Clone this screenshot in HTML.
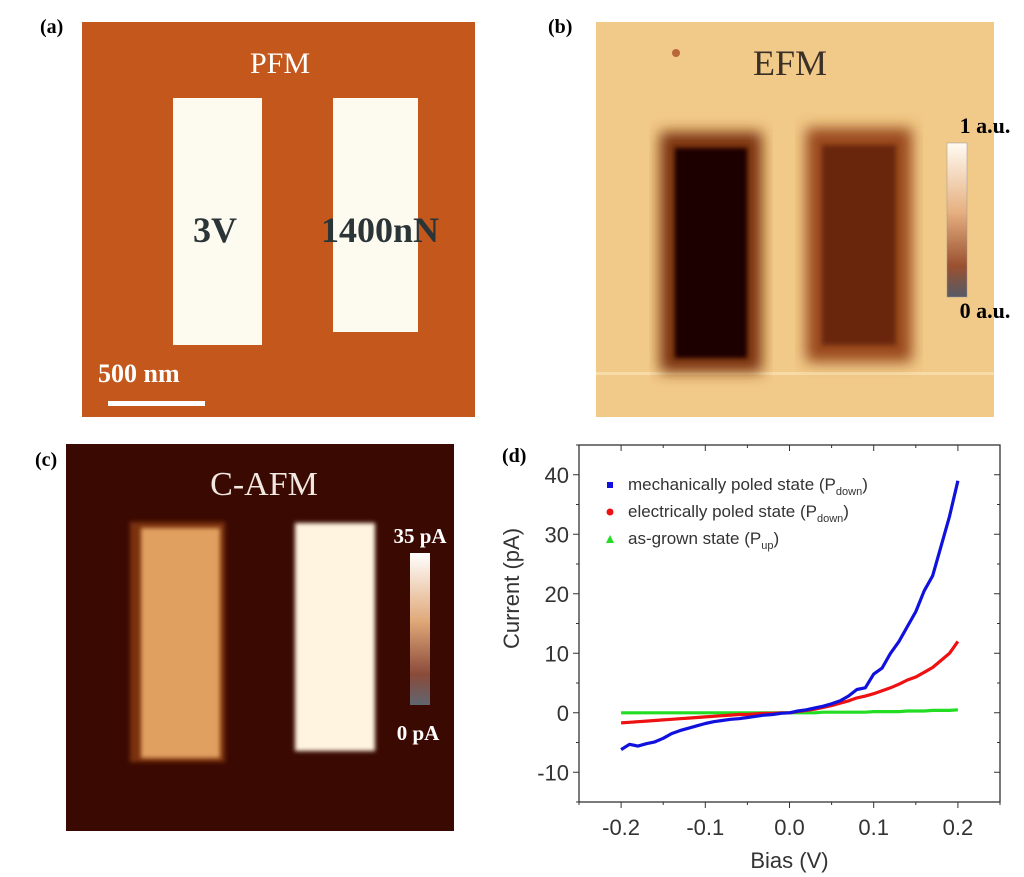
<!DOCTYPE html>
<html><head><meta charset="utf-8"><style>
body{margin:0;background:#fff;}
svg{display:block;}
text{font-family:"Liberation Serif",serif;}
.sans{font-family:"Liberation Sans",sans-serif;}
</style></head><body>
<svg width="1024" height="877" viewBox="0 0 1024 877">
<defs>
<filter id="blur6"><feGaussianBlur stdDeviation="7"/></filter>
<filter id="blur2"><feGaussianBlur stdDeviation="2"/></filter>
<linearGradient id="cbB" x1="0" y1="0" x2="0" y2="1"><stop offset="0" stop-color="#fffbf2"/><stop offset="0.45" stop-color="#e6b080"/><stop offset="0.8" stop-color="#9a5030"/><stop offset="1" stop-color="#555a66"/></linearGradient>
<linearGradient id="cbC" x1="0" y1="0" x2="0" y2="1"><stop offset="0" stop-color="#ffffff"/><stop offset="0.45" stop-color="#e0a878"/><stop offset="0.8" stop-color="#8a4a3a"/><stop offset="1" stop-color="#606670"/></linearGradient>
</defs>

<g>
<text x="40" y="33" font-size="20" font-weight="bold">(a)</text>
<rect x="82" y="22" width="393" height="395" fill="#c4581c"/>
<rect x="173" y="98" width="89" height="247" fill="#fdfbf0"/>
<rect x="333" y="98" width="85" height="234" fill="#fdfbf0"/>
<text x="280" y="73" font-size="30" fill="#fff" text-anchor="middle">PFM</text>
<text x="215" y="242" font-size="36" font-weight="bold" fill="#2b3538" text-anchor="middle">3V</text>
<text x="380" y="242" font-size="36" font-weight="bold" fill="#2b3538" text-anchor="middle">1400nN</text>
<text x="98" y="382" font-size="26" font-weight="bold" fill="#fff">500 nm</text>
<rect x="108" y="401" width="97" height="5" fill="#fff"/>
</g>

<g>
<text x="548" y="33" font-size="20" font-weight="bold">(b)</text>
<rect x="596" y="22" width="398" height="395" fill="#f1c988"/>
<rect x="596" y="372" width="398" height="3" fill="#f8dca8"/>
<rect x="660" y="132" width="102" height="240" fill="#7a3010" filter="url(#blur6)"/>
<rect x="806" y="128" width="106" height="234" fill="#9a4a1c" filter="url(#blur6)"/>
<rect x="675" y="148" width="72" height="210" fill="#1a0500" filter="url(#blur2)"/>
<rect x="822" y="145" width="74" height="200" fill="#6a2508" filter="url(#blur2)"/>
<circle cx="676" cy="53" r="4" fill="#b86838"/>
<text x="790" y="75" font-size="36" fill="#3a3028" text-anchor="middle">EFM</text>
<rect x="947" y="143" width="20" height="154" fill="url(#cbB)" stroke="#999" stroke-width="0.5"/>
<text x="985" y="133" font-size="22" font-weight="bold" text-anchor="middle">1 a.u.</text>
<text x="985" y="318" font-size="22" font-weight="bold" text-anchor="middle">0 a.u.</text>
</g>

<g>
<text x="35" y="466" font-size="20" font-weight="bold">(c)</text>
<rect x="66" y="444" width="388" height="387" fill="#3a0a02"/>
<rect x="130" y="522" width="95" height="240" fill="#7a3010" filter="url(#blur2)"/>
<rect x="141" y="528" width="79" height="230" fill="#e0a060" filter="url(#blur2)"/>
<rect x="295" y="523" width="80" height="228" fill="#fff4e0" filter="url(#blur2)"/>
<text x="264" y="495" font-size="34" fill="#f0e8e0" text-anchor="middle">C-AFM</text>
<rect x="410" y="553" width="20" height="152" fill="url(#cbC)"/>
<text x="420" y="543" font-size="21" font-weight="bold" fill="#fff" text-anchor="middle">35 pA</text>
<text x="418" y="740" font-size="21" font-weight="bold" fill="#fff" text-anchor="middle">0 pA</text>
</g>

<g id="chart">
<text x="502" y="462" font-size="20" font-weight="bold">(d)</text>
</g>
</svg>
<script>
const xVals=[-0.2,-0.19,-0.18,-0.17,-0.16,-0.15,-0.14,-0.13,-0.12,-0.11,-0.1,-0.09,-0.08,-0.07,-0.06,-0.05,-0.04,-0.03,-0.02,-0.01,0,0.01,0.02,0.03,0.04,0.05,0.06,0.07,0.08,0.09,0.1,0.11,0.12,0.13,0.14,0.15,0.16,0.17,0.18,0.19,0.2];
const blueVals=[-6.2,-5.3,-5.6,-5.2,-4.9,-4.3,-3.5,-3.0,-2.6,-2.2,-1.8,-1.5,-1.3,-1.1,-1.0,-0.8,-0.6,-0.4,-0.3,-0.1,0,0.3,0.5,0.8,1.1,1.5,2.0,2.8,3.9,4.2,6.5,7.5,10,12,14.5,17,20.5,23,28,33,39];
const redVals=[-1.7,-1.6,-1.5,-1.4,-1.3,-1.2,-1.1,-1.0,-0.9,-0.8,-0.7,-0.6,-0.5,-0.4,-0.3,-0.3,-0.2,-0.1,-0.1,0,0,0.2,0.4,0.6,0.9,1.2,1.6,2.0,2.5,2.8,3.2,3.7,4.2,4.8,5.5,6.0,6.8,7.6,8.8,10,12];
const greenVals=[0,0,0,0,0,0,0,0,0,0,0,0,0,0,0,0,0,0,0,0,0,0,0,0,0.1,0.1,0.1,0.1,0.1,0.1,0.2,0.2,0.2,0.2,0.3,0.3,0.3,0.4,0.4,0.4,0.5];
const xTicks=[-0.2,-0.1,0.0,0.1,0.2];
const xTickLabels=["-0.2","-0.1","0.0","0.1","0.2"];
const yTicks=[-10,0,10,20,30,40];
const legendLabels=["mechanically poled state (P","electrically poled state (P","as-grown state (P"];
const legendSubs=["down","down","up"];

const L=579,R=1000,T=445,B=802,X0=-0.25,X1=0.25,Y0=-15,Y1=45;
const sx=v=>L+(v-X0)/(X1-X0)*(R-L);
const sy=v=>B-(v-Y0)/(Y1-Y0)*(B-T);
const NS="http://www.w3.org/2000/svg";
const g=document.getElementById('chart');
function mk(tag,attrs){const e=document.createElementNS(NS,tag);for(const k in attrs)e.setAttribute(k,attrs[k]);g.appendChild(e);return e;}

const frame=mk('rect',{x:L,y:T,width:R-L,height:B-T,fill:'none',stroke:'#333','stroke-width':1.3});


for(let v=-0.25;v<=0.2501;v+=0.05){const x=sx(v);const maj=xTicks.some(t=>Math.abs(t-v)<1e-6);
 mk('line',{x1:x,x2:x,y1:B,y2:B+(maj?6:3),stroke:'#333'});mk('line',{x1:x,x2:x,y1:T,y2:T+(maj?6:3),stroke:'#333'});}
for(let v=-15;v<=45;v+=5){const y=sy(v);const maj=v%10===0;
 mk('line',{x1:L,x2:L-(maj?6:3),y1:y,y2:y,stroke:'#333'});mk('line',{x1:R,x2:R-(maj?6:3),y1:y,y2:y,stroke:'#333'});}
xTicks.forEach((v,i)=>{const t=mk('text',{x:sx(v),y:B+33,'font-size':22,'text-anchor':'middle',fill:'#333',class:'sans'});t.textContent=xTickLabels[i];
 
 });
yTicks.forEach(v=>{const t=mk('text',{x:L-10,y:sy(v)+8,'font-size':22,'text-anchor':'end',fill:'#333',class:'sans'});t.textContent=String(v);
 
 });
const xt=mk('text',{x:(L+R)/2,y:868,'font-size':22,'text-anchor':'middle',fill:'#333',class:'sans'});xt.textContent='Bias (V)';


const yt=mk('text',{x:0,y:0,'font-size':22,'text-anchor':'middle',fill:'#333',class:'sans',transform:`translate(519,${(T+B)/2-35}) rotate(-90)`});yt.textContent='Current (pA)';



const series=[[greenVals,'#22dd22','series-as-grown'],[redVals,'#ee1111','series-electrically-poled'],[blueVals,'#1111dd','series-mechanically-poled']];
series.forEach(([vals,c,n])=>{const pts=xVals.map((x,i)=>sx(x).toFixed(1)+','+sy(vals[i]).toFixed(1)).join(' ');
 const p=mk('polyline',{points:pts,fill:'none',stroke:c,'stroke-width':3.2,'stroke-linejoin':'round'});
 
 });

const lc=['#1111dd','#ee1111','#22dd22'];
legendLabels.forEach((lab,i)=>{const y=490+i*27;
 let m;
 if(i===0)m=mk('rect',{x:607,y:y-8,width:6,height:6,fill:lc[i]});
 else if(i===1)m=mk('circle',{cx:610,cy:y-5,r:3.5,fill:lc[i]});
 else m=mk('polygon',{points:`606,${y-1} 614,${y-1} 610,${y-9}`,fill:lc[i]});
 
 
 const t=mk('text',{x:628,y:y,'font-size':17,fill:'#333',class:'sans'});
 
 
 t.appendChild(document.createTextNode(lab));
 const s=document.createElementNS(NS,'tspan');s.setAttribute('font-size','11');s.setAttribute('dy','5');s.textContent=legendSubs[i];t.appendChild(s);
 const s2=document.createElementNS(NS,'tspan');s2.setAttribute('dy','-5');s2.textContent=')';t.appendChild(s2);
});
</script>
</body></html>
